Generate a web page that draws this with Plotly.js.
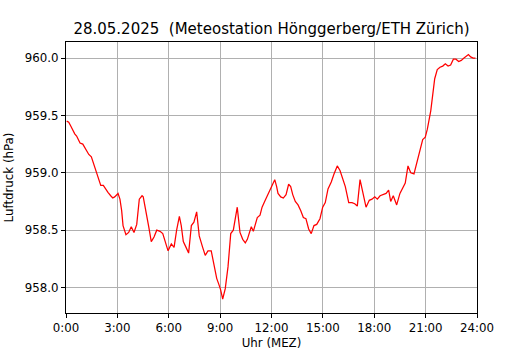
<!DOCTYPE html>
<html>
<head>
<meta charset="utf-8">
<script src="https://cdn.plot.ly/plotly-3.0.1.min.js"></script>
<style>html,body{margin:0;padding:0;background:#fff;}</style>
</head>
<body>
<div id="chart" style="width:530px;height:350px;"></div>
<script>
// Time of day in hours (MEZ)
const hours = [0.04,0.16,0.27,0.39,0.51,0.62,0.74,0.82,0.98,1.09,1.21,1.33,1.48,1.59,1.71,1.83,1.94,2.03,2.18,2.29,2.45,2.61,2.73,2.84,2.96,3.04,3.15,3.25,3.33,3.50,3.66,3.81,3.97,4.13,4.28,4.44,4.51,4.67,4.83,4.98,5.14,5.30,5.49,5.65,5.80,5.96,6.15,6.31,6.46,6.62,6.73,6.85,7.01,7.16,7.32,7.47,7.63,7.78,7.98,8.13,8.29,8.48,8.64,8.80,8.92,9.03,9.15,9.30,9.46,9.62,9.77,9.89,10.00,10.08,10.16,10.32,10.47,10.59,10.70,10.82,10.94,11.05,11.17,11.33,11.45,11.60,11.75,11.87,12.03,12.19,12.30,12.38,12.54,12.69,12.85,13.00,13.12,13.24,13.39,13.55,13.71,13.86,14.01,14.17,14.32,14.48,14.64,14.83,14.99,15.14,15.30,15.49,15.65,15.84,16.00,16.16,16.31,16.51,16.70,16.86,17.01,17.17,17.33,17.52,17.71,17.87,18.03,18.18,18.34,18.53,18.69,18.84,18.96,19.11,19.31,19.50,19.66,19.81,19.97,20.13,20.32,20.48,20.63,20.83,20.98,21.10,21.30,21.41,21.53,21.68,21.84,22.00,22.15,22.31,22.46,22.62,22.77,22.93,23.08,23.24,23.40,23.50,23.63,23.78,23.91];
// Air pressure (hPa)
const pressure = [959.45,959.44,959.41,959.37,959.34,959.32,959.29,959.26,959.25,959.22,959.19,959.16,959.14,959.09,959.05,958.99,958.94,958.89,958.89,958.86,958.83,958.80,958.78,958.79,958.81,958.82,958.77,958.67,958.54,958.46,958.48,958.53,958.48,958.55,958.77,958.80,958.79,958.67,958.53,958.40,958.44,958.50,958.49,958.47,958.40,958.32,958.38,958.35,958.50,958.62,958.54,958.40,958.35,958.30,958.54,958.57,958.66,958.45,958.35,958.28,958.32,958.32,958.20,958.08,958.03,957.98,957.90,957.99,958.18,958.47,958.50,958.61,958.70,958.59,958.48,958.42,958.39,958.42,958.47,958.53,958.49,958.56,958.61,958.63,958.70,958.75,958.80,958.84,958.88,958.94,958.88,958.82,958.79,958.78,958.81,958.90,958.88,958.81,958.75,958.72,958.67,958.61,958.60,958.51,958.47,958.54,958.55,958.60,958.70,958.74,958.86,958.92,958.99,959.06,959.02,958.95,958.88,958.74,958.74,958.73,958.71,958.94,958.84,958.70,958.76,958.77,958.79,958.77,958.80,958.81,958.82,958.85,958.75,958.80,958.72,958.82,958.86,958.91,959.06,959.00,958.99,959.08,959.18,959.29,959.31,959.38,959.54,959.68,959.82,959.90,959.92,959.93,959.95,959.93,959.94,959.99,959.99,959.97,959.98,960.00,960.02,960.03,960.01,960.00,960.00];
const xTickVals = [0,3,6,9,12,15,18,21,24];
const xTickText = ["0:00","3:00","6:00","9:00","12:00","15:00","18:00","21:00","24:00"];
const yTickVals = [958.0,958.5,959.0,959.5,960.0];
const titleText = "28.05.2025  (Meteostation Hönggerberg/ETH Zürich)";
const xLabel = "Uhr (MEZ)";
const yLabel = "Luftdruck (hPa)";

const font = "DejaVu Sans, sans-serif";
const trace = {
  x: hours, y: pressure, type: "scatter", mode: "lines",
  line: {color: "#ff0000", width: 1.25}, hoverinfo: "skip"
};
const axisCommon = {
  showline: true, linecolor: "#000", linewidth: 1, mirror: true,
  showgrid: true, gridcolor: "#b0b0b0", gridwidth: 1,
  ticks: "outside", ticklen: 4, tickwidth: 1, tickcolor: "#000",
  zeroline: false, tickfont: {family: font, size: 11.8, color: "#000"}
};
const layout = {
  width: 530, height: 350, autosize: false,
  paper_bgcolor: "#fff", plot_bgcolor: "#fff",
  margin: {l: 66, r: 53, t: 42, b: 37, pad: 0},
  showlegend: false,
  title: {text: titleText, font: {family: font, size: 15, color: "#000"},
          x: 0.5, xref: "paper", y: 1 - 29/350, yref: "container", yanchor: "middle"},
  xaxis: Object.assign({}, axisCommon, {
    range: [0, 24], tickmode: "array", tickvals: xTickVals, ticktext: xTickText,
    title: {text: xLabel, font: {family: font, size: 11.8, color: "#000"}, standoff: 5}
  }),
  yaxis: Object.assign({}, axisCommon, {
    range: [957.778, 960.14], tickmode: "array", tickvals: yTickVals,
    ticktext: yTickVals.map(v => v.toFixed(1)),
    title: {text: yLabel, font: {family: font, size: 11.8, color: "#000"}, standoff: 8}
  })
};
Plotly.newPlot("chart", [trace], layout, {displayModeBar: false, staticPlot: true});
</script>
</body>
</html>
